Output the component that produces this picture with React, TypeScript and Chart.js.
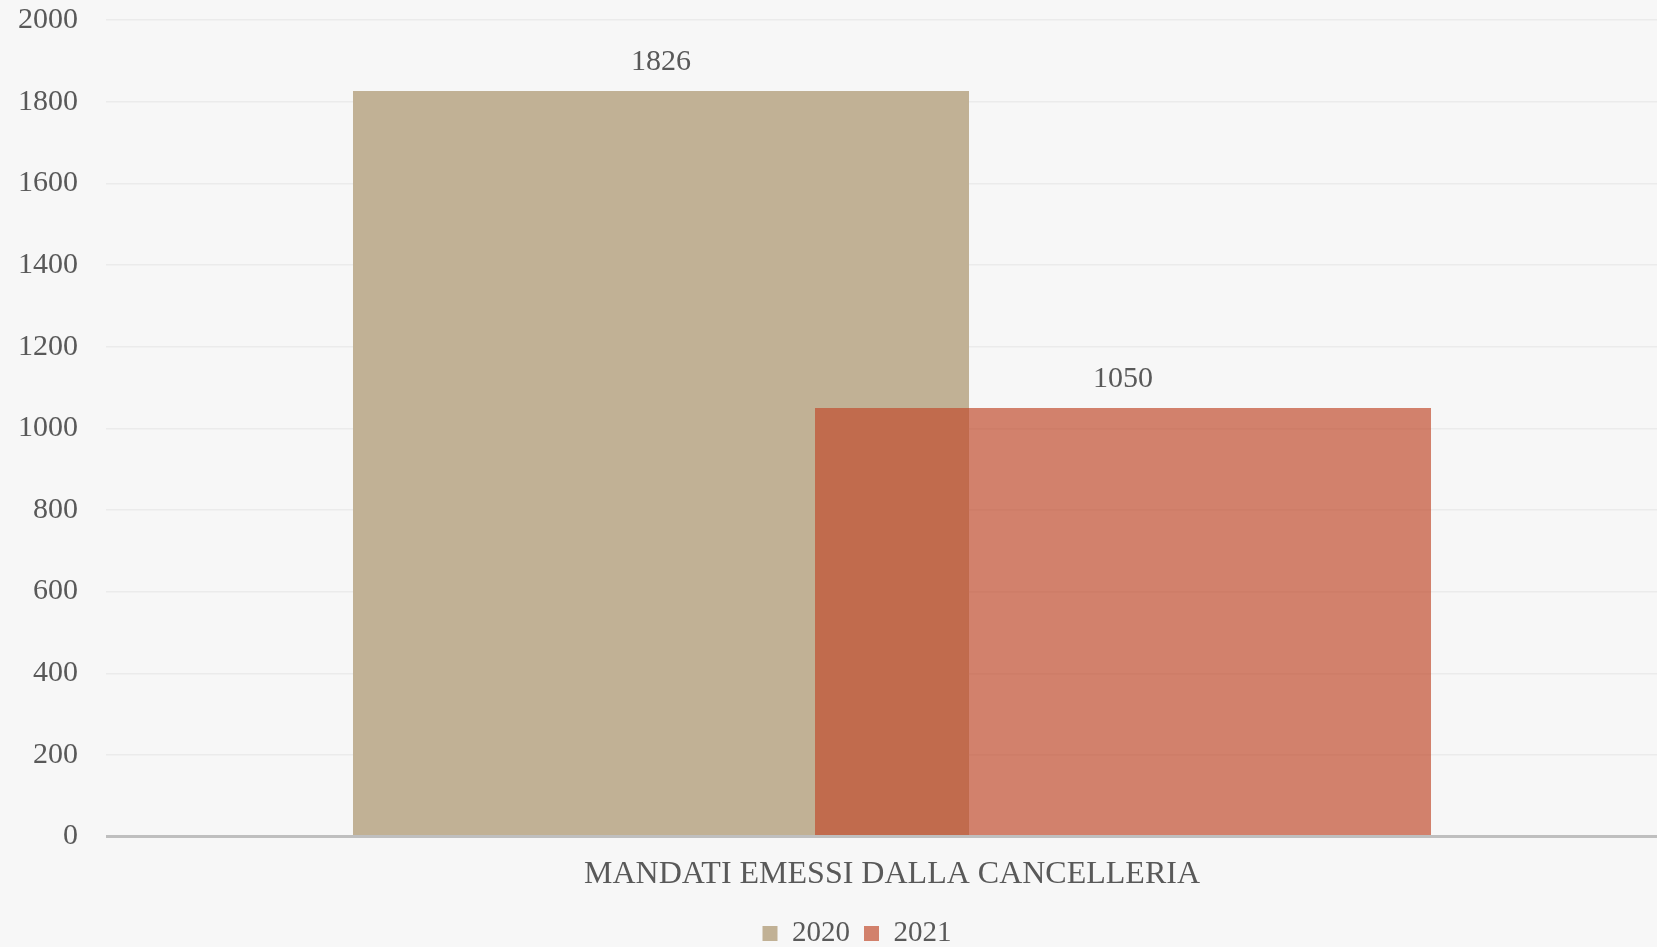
import React, { useEffect, useRef } from "react";
import { Chart, registerables } from "chart.js";

Chart.register(...registerables);

const categories = ["MANDATI EMESSI DALLA CANCELLERIA"];
const seriesNames = ["2020", "2021"];
const values2020 = [1826];
const values2021 = [1050];
const yTicks = [0, 200, 400, 600, 800, 1000, 1200, 1400, 1600, 1800, 2000];

const FONT = "'Liberation Serif', 'DejaVu Serif', serif";
const TEXT = "#595959";

// draw the 2021 series on top of the 2020 series (Excel-like overlap)
const drawOrder = {
  id: "drawOrder",
  beforeDatasetDraw(_chart: any, args: any) {
    if (args.index === 1) return false;
  },
  afterDatasetsDraw(chart: any) {
    chart.getDatasetMeta(1).controller.draw();
  },
};

// shift the legend so it is centred on the full (uncropped) chart
const legendShift = {
  id: "legendShift",
  afterLayout(chart: any) {
    if (chart.legend) {
      chart.legend.left += 18;
      chart.legend.right += 18;
    }
  },
};

const dataLabels = {
  id: "dataLabels",
  afterDatasetsDraw(chart: any) {
    const ctx = chart.ctx;
    ctx.save();
    ctx.font = `30px ${FONT}`;
    ctx.fillStyle = TEXT;
    ctx.textAlign = "center";
    ctx.textBaseline = "middle";
    chart.data.datasets.forEach((ds: any, i: number) => {
      const meta = chart.getDatasetMeta(i);
      meta.data.forEach((bar: any, j: number) => {
        ctx.fillText(String(ds.data[j]), bar.x, bar.y - 29);
      });
    });
    ctx.restore();
  },
};

export default function App() {
  const ref = useRef<HTMLCanvasElement | null>(null);
  useEffect(() => {
    document.body.style.margin = "0";
    const chart = new Chart(ref.current!, {
      type: "bar",
      data: {
        labels: categories,
        datasets: [
          {
            label: seriesNames[0],
            data: values2020,
            backgroundColor: "rgb(193,177,149)",
            barPercentage: 1.3333,
            categoryPercentage: 0.5878,
          },
          {
            label: seriesNames[1],
            data: values2021,
            backgroundColor: "rgba(193,76,45,0.69)",
            barPercentage: 1.3333,
            categoryPercentage: 0.5878,
          },
        ],
      },
      options: {
        animation: false,
        responsive: true,
        maintainAspectRatio: false,
        layout: { padding: { left: 0, right: 36, top: 20, bottom: 0 } },
        plugins: {
          tooltip: { enabled: false },
          legend: {
            position: "bottom",
            labels: {
              font: { family: FONT, size: 29 },
              color: TEXT,
              boxWidth: 15,
              boxHeight: 15,
              padding: 14,
            },
          },
        },
        scales: {
          x: {
            grid: { display: false },
            border: { display: false },
            ticks: {
              font: { family: FONT, size: 32 },
              color: TEXT,
              padding: 11,
            },
          },
          y: {
            min: 0,
            max: 2000,
            afterBuildTicks: (axis: any) => {
              axis.ticks = yTicks.map((v) => ({ value: v }));
            },
            afterFit: (axis: any) => {
              axis.width = 106;
              axis.paddingTop = 0;
              axis.paddingBottom = 0;
            },
            border: { display: false },
            grid: {
              drawTicks: false,
              color: (c: any) => (c.tick && c.tick.value === 0 ? "#bfbfbf" : "#ebebeb"),
              lineWidth: (c: any) => (c.tick && c.tick.value === 0 ? 3 : 1.5),
            },
            ticks: {
              font: { family: FONT, size: 30 },
              color: TEXT,
              padding: 28,
              callback: (v: any) => String(v),
            },
          },
        },
      },
      plugins: [drawOrder, legendShift, dataLabels],
    });
    return () => chart.destroy();
  }, []);
  return (
    <div style={{ width: 1657, height: 947, overflow: "hidden", background: "#f7f7f7", position: "relative" }}>
      <div style={{ width: 1714, height: 958, position: "absolute", left: 0, top: 0 }}>
        <canvas ref={ref} />
      </div>
    </div>
  );
}
